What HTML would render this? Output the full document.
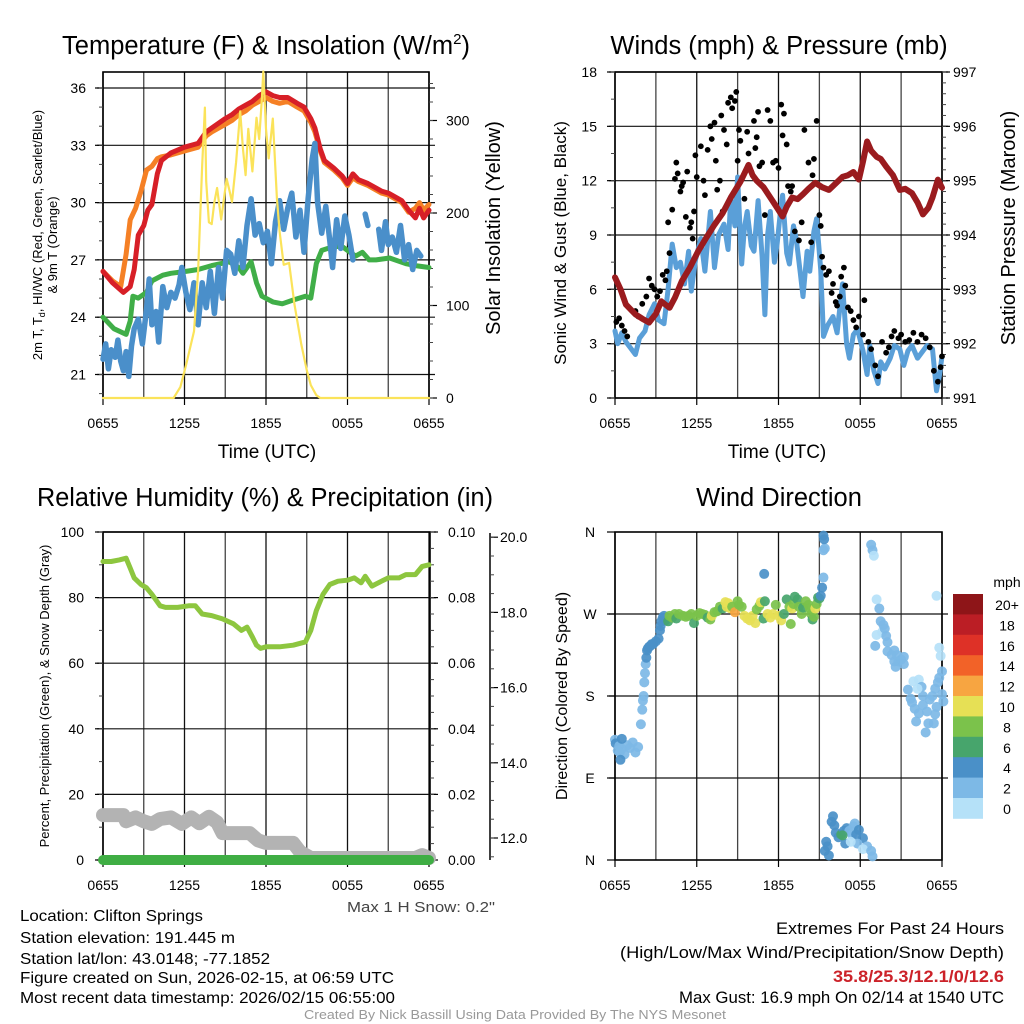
<!DOCTYPE html>
<html><head><meta charset="utf-8"><style>
html,body{margin:0;padding:0;background:#fff;}
svg{display:block;font-family:"Liberation Sans",Arial,sans-serif;}
</style></head><body>
<svg id="fig" width="1024" height="1024" viewBox="0 0 1024 1024" xmlns="http://www.w3.org/2000/svg">
<rect width="1024" height="1024" fill="#fff"/>
<g id="p1"></g>
<g id="p2"></g>
<g id="p3"></g>
<g id="p4"></g>

<text x="266" y="54" font-size="25.5" text-anchor="middle">Temperature (F) &amp; Insolation (W/m<tspan font-size="15" dy="-10">2</tspan><tspan dy="10">)</tspan></text>
<text x="779" y="54" font-size="25.5" text-anchor="middle">Winds (mph) &amp; Pressure (mb)</text>
<text x="265" y="506" font-size="25.5" text-anchor="middle" textLength="456" lengthAdjust="spacingAndGlyphs">Relative Humidity (%) &amp; Precipitation (in)</text>
<text x="779" y="506" font-size="25.5" text-anchor="middle">Wind Direction</text>

<text x="267" y="458" font-size="19" text-anchor="middle">Time (UTC)</text>
<text x="777" y="458" font-size="19" text-anchor="middle">Time (UTC)</text>

<text transform="translate(42,235) rotate(-90)" font-size="13" text-anchor="middle">2m T, T<tspan font-size="9" dy="3">d</tspan><tspan dy="-3">, HI/WC (Red, Green, Scarlet/Blue)</tspan></text>
<text transform="translate(57,245) rotate(-90)" font-size="13" text-anchor="middle">&amp; 9m T (Orange)</text>
<text transform="translate(500,228) rotate(-90)" font-size="20" text-anchor="middle">Solar Insolation (Yellow)</text>
<text transform="translate(566,243) rotate(-90)" font-size="17" text-anchor="middle">Sonic Wind &amp; Gust (Blue, Black)</text>
<text transform="translate(1015,228) rotate(-90)" font-size="20" text-anchor="middle">Station Pressure (Maroon)</text>
<text transform="translate(49,696) rotate(-90)" font-size="13" text-anchor="middle">Percent, Precipitation (Green), &amp; Snow Depth (Gray)</text>
<text transform="translate(567,696) rotate(-90)" font-size="16" text-anchor="middle">Direction (Colored By Speed)</text>

<text x="495" y="912" font-size="15" text-anchor="end" fill="#444" textLength="148" lengthAdjust="spacingAndGlyphs">Max 1 H Snow: 0.2"</text>

<g font-size="16">
<text x="20" y="921" textLength="183" lengthAdjust="spacingAndGlyphs">Location: Clifton Springs</text>
<text x="20" y="943" textLength="215" lengthAdjust="spacingAndGlyphs">Station elevation: 191.445 m</text>
<text x="20" y="964" textLength="250" lengthAdjust="spacingAndGlyphs">Station lat/lon: 43.0148; -77.1852</text>
<text x="20" y="983" textLength="374" lengthAdjust="spacingAndGlyphs">Figure created on Sun, 2026-02-15, at 06:59 UTC</text>
<text x="20" y="1003" textLength="375" lengthAdjust="spacingAndGlyphs">Most recent data timestamp: 2026/02/15 06:55:00</text>
</g>
<g font-size="17" text-anchor="end">
<text x="1004" y="934" textLength="228" lengthAdjust="spacingAndGlyphs">Extremes For Past 24 Hours</text>
<text x="1004" y="958" textLength="384" lengthAdjust="spacingAndGlyphs">(High/Low/Max Wind/Precipitation/Snow Depth)</text>
<text x="1004" y="982" textLength="171" lengthAdjust="spacingAndGlyphs" fill="#cc2229" font-weight="bold">35.8/25.3/12.1/0/12.6</text>
<text x="1004" y="1003" textLength="325" lengthAdjust="spacingAndGlyphs">Max Gust: 16.9 mph On 02/14 at 1540 UTC</text>
</g>
<text x="515" y="1019" font-size="13" fill="#999" text-anchor="middle" textLength="422" lengthAdjust="spacingAndGlyphs">Created By Nick Bassill Using Data Provided By The NYS Mesonet</text>
</svg>
<script>
// ---------- DATA ----------
const xTickHours = [0, 6, 12, 18, 24];
const xTickLabels = ['0655', '1255', '1855', '0055', '0655'];
// Panel 1
const tempTicks = [21, 24, 27, 30, 33, 36];
const insolTicks = [0, 100, 200, 300];
const redTimes = [0,0.7,1.5,2.0,2.3,2.6,3.0,3.3,3.6,4.0,4.3,5,6,7,7.6,8,9,9.5,10,10.5,11,11.5,12,12.5,13,13.6,14.3,14.8,15.3,15.6,16,16.3,17,17.6,18,18.4,18.8,19.5,20.5,21,22,22.5,23,23.3,23.6,24];
const redValues = [26.4,25.8,25.3,25.6,26.5,28.3,28.8,29.6,29.9,31.5,32.2,32.6,32.9,33.1,33.7,33.9,34.4,34.6,34.9,35.1,35.3,35.6,35.8,35.6,35.5,35.5,35.2,35.0,34.4,33.9,32.8,32.2,31.8,31.4,31.0,31.5,31.2,31.0,30.6,30.5,30.1,29.6,29.2,29.7,29.2,29.6];
const orangeTimes = [0,0.7,1.3,1.7,2.0,2.4,2.8,3.2,3.6,4.0,4.3,5,6,7,7.6,8,9,9.5,10,10.5,11,11.5,12,12.5,13,13.6,14.3,14.8,15.3,15.6,16,16.3,17,17.6,18,18.4,18.8,19.5,20.5,21,22,22.5,23,23.3,23.6,24];
const orangeValues = [26.4,25.9,25.6,27.3,29.1,29.7,30.6,31.7,31.9,32.3,32.4,32.5,32.7,32.9,33.5,33.7,34.1,34.3,34.6,34.8,35.1,35.3,35.5,35.3,35.2,35.3,35.0,34.8,34.2,33.7,32.7,32.1,31.7,31.3,30.9,31.3,31.1,30.9,30.5,30.4,30.0,29.5,29.7,30.0,29.6,29.9];
const greenTimes = [0,0.8,1.7,2.0,2.2,2.6,3.2,3.6,4.4,5,6.1,7,8,9.3,10,10.3,10.9,11.3,11.7,12.5,13.2,14,14.9,15.3,15.7,16.1,17,17.6,18.2,18.6,19.1,19.6,20.1,21.1,22.3,23,24];
const greenValues = [24.0,23.4,23.1,23.8,25.1,25.0,25.3,25.9,26.2,26.3,26.4,26.5,26.7,26.9,26.6,26.3,26.9,25.8,25.1,24.8,24.7,24.9,25.1,25.0,26.8,27.5,27.7,27.7,27.4,27.2,27.4,27.0,27.0,27.1,26.8,26.7,26.6];
const blueTimes = [0,0.2,0.4,0.6,0.9,1.1,1.3,1.5,1.7,1.9,2.1,2.3,2.6,2.9,3.2,3.4,3.6,3.9,4.1,4.4,4.7,5.0,5.3,5.6,5.8,6.1,6.4,6.7,7.0,7.3,7.6,7.9,8.2,8.5,8.8,9.1,9.4,9.7,10.0,10.3,10.6,10.9,11.2,11.5,11.8,12.1,12.4,12.7,13.0,13.3,13.6,13.9,14.2,14.5,14.8,15.1,15.4,15.6,15.8,16.1,16.4,16.7,16.9,17.2,17.5,17.8,18.1,18.4,18.6,19.3,19.5,19.7,20.3,20.5,20.8,21.0,21.3,21.6,21.9,22.2,22.5,22.8,23.1,23.4];
const blueValues = [21.8,22.6,21.3,22.3,21.9,22.8,21.7,21.2,22.2,20.9,22.5,23.4,23.9,22.6,24.4,26.0,23.6,24.3,22.7,25.6,24.5,25.3,25.0,25.7,26.6,25.3,24.4,25.8,23.6,25.8,24.5,26.4,24.2,26.6,25.0,27.5,27.3,26.3,28.0,26.6,28.8,30.2,28.3,28.9,27.9,28.5,26.8,29.0,30.1,28.6,29.7,30.5,28.2,29.6,27.4,30.2,32.3,33.1,30.0,28.4,29.8,28.0,26.6,29.1,27.6,29.3,28.3,27.0,null,29.4,28.8,null,28.6,27.5,29.0,27.8,28.2,27.4,28.8,27.0,27.8,26.5,27.5,27.2];
const insolTimes = [0,5.2,5.7,6.1,6.7,7.0,7.3,7.5,7.6,7.8,8.0,8.2,8.4,8.7,9.1,9.3,9.5,9.8,10.1,10.3,10.5,10.7,11.0,11.3,11.5,11.7,11.8,12.0,12.2,12.5,12.8,13.0,13.3,13.7,14.1,14.6,15.0,15.3,15.7,16.0,24];
const insolValues = [0,0,12,35,72,137,252,314,234,190,188,212,227,193,237,225,212,255,310,270,241,291,245,303,280,324,353,291,259,302,216,180,144,146,101,58,30,14,3,0,0];
// Panel 2
const windTicks = [0, 3, 6, 9, 12, 15, 18];
const presTicks = [991, 992, 993, 994, 995, 996, 997];
const windTimes = [0,0.2,0.5,0.8,1.1,1.5,1.8,2.2,2.5,2.9,3.2,3.6,3.9,4.2,4.5,4.8,5.1,5.4,5.6,5.9,6.3,6.6,7.0,7.3,7.6,8.0,8.3,8.5,8.8,9.0,9.3,9.5,9.7,10.0,10.2,10.5,10.8,11.0,11.2,11.4,11.7,11.9,12.1,12.3,12.6,12.8,13.1,13.3,13.6,13.8,14.1,14.3,14.6,14.8,15.1,15.3,15.6,16.0,16.3,16.7,17.0,17.2,17.5,17.8,18.2,18.5,18.7,19.0,19.3,19.5,19.8,20.2,20.5,20.9,21.2,21.5,21.8,22.2,22.5,22.9,23.3,23.6,23.8,24];
const windValues = [3.7,3.0,3.6,3.1,2.8,2.4,3.3,3.7,4.6,5.2,4.3,4.1,6.0,8.5,7.2,7.5,6.3,8.1,5.9,7.6,8.8,7.0,10.3,7.2,9.0,9.6,8.2,11.1,9.5,12.2,7.4,9.4,10.3,8.4,8.1,10.9,7.8,4.6,9.0,10.3,7.5,8.5,10.0,11.2,8.0,7.4,9.5,8.8,6.9,5.6,8.1,7.0,9.2,9.9,7.1,3.4,4.0,4.5,3.6,6.3,3.0,2.2,3.5,3.8,2.6,1.3,2.9,1.5,0.8,2.0,1.6,2.2,2.9,2.7,1.8,2.6,2.9,2.2,2.5,2.9,2.7,0.4,1.2,2.3];
const presTimes = [0,0.4,0.8,1.5,2.0,2.5,3.0,3.4,4.0,4.4,4.9,5.5,6.1,6.7,7.3,7.9,8.5,9.2,9.8,10.1,10.4,10.9,11.4,11.9,12.3,12.6,13.0,13.4,13.8,14.2,14.7,15.2,15.7,16.2,16.7,17.1,17.5,17.9,18.2,18.5,18.8,19.2,19.5,19.9,20.4,20.9,21.3,21.8,22.2,22.6,23.0,23.3,23.7,24];
const presValues = [993.22,993.0,992.72,992.54,992.46,992.39,992.55,992.78,992.66,992.85,993.15,993.4,993.70,993.95,994.19,994.4,994.69,994.98,995.29,995.1,995.0,994.88,994.69,994.5,994.34,994.52,994.69,994.66,994.75,994.85,994.96,994.88,994.83,994.95,995.07,995.1,995.16,995.02,995.35,995.72,995.55,995.44,995.4,995.26,995.1,994.83,994.85,994.77,994.6,994.38,994.5,994.69,995.02,994.87];
const gustTimes = [0.1,0.3,0.5,0.7,0.9,1.5,1.7,2.0,2.3,2.5,2.7,2.9,3.1,3.3,3.5,3.7,3.8,3.9,4.0,4.2,4.4,4.5,4.6,4.8,4.9,5.0,5.2,5.3,5.5,5.6,5.7,5.8,5.9,6.0,6.3,6.5,6.6,6.8,7.0,7.1,7.3,7.4,7.5,7.7,7.8,7.9,8.0,8.2,8.3,8.5,8.6,8.8,8.9,9.0,9.1,9.2,9.5,9.7,9.8,10.0,10.2,10.3,10.4,10.5,10.6,10.8,11.0,11.2,11.4,11.6,11.8,12.0,12.2,12.3,12.4,12.6,12.7,12.9,13.0,13.2,13.5,13.7,13.9,14.2,14.4,14.5,14.6,14.8,15.0,15.1,15.2,15.3,15.5,15.7,15.9,16.0,16.2,16.3,16.5,16.6,16.8,16.9,17.1,17.3,17.5,17.7,17.9,18.2,18.3,18.6,18.8,19.1,19.3,19.6,19.9,20.1,20.3,20.5,20.8,21.0,21.3,21.6,21.9,22.2,22.5,22.8,23.1,23.4,23.7,23.9,24.0];
const gustValues = [4.2,4.4,4.0,3.7,3.4,4.8,4.5,5.2,5.6,6.6,6.2,6.0,5.6,5.9,6.8,6.5,7.0,9.7,8.0,10.4,12.1,13.0,12.4,11.4,11.7,11.9,10.0,12.5,9.4,9.7,8.8,10.3,13.4,12.2,13.9,12.0,11.2,13.7,15.0,14.3,15.2,13.1,11.5,12.0,15.6,10.3,14.8,14.0,16.3,16.6,16.0,16.4,16.9,13.1,14.8,14.2,11.0,14.7,13.5,12.5,15.3,13.8,14.4,15.8,12.8,13.0,10.1,15.9,15.3,13.0,13.1,12.7,16.2,14.5,15.7,14.0,11.7,11.4,11.7,9.2,8.7,9.7,14.8,13.0,8.6,12.3,13.2,15.3,10.1,9.5,7.8,7.2,6.8,7.0,5.8,6.3,5.3,5.1,5.6,6.7,7.2,6.2,5.0,4.8,4.3,3.9,4.5,3.5,5.4,3.1,2.7,1.8,1.2,3.1,2.5,2.8,3.4,3.7,3.3,3.5,3.1,3.2,3.6,3.1,3.5,3.3,2.8,1.5,0.9,1.7,2.3];
// Panel 3
const rhTicks = [0, 20, 40, 60, 80, 100];
const precipTicks = [0, 0.02, 0.04, 0.06, 0.08, 0.10];
const precipLabels = ['0.00', '0.02', '0.04', '0.06', '0.08', '0.10'];
const snowAxisTicks = [12, 14, 16, 18, 20];
const snowAxisLabels = ['12.0', '14.0', '16.0', '18.0', '20.0'];
const rhTimes = [0,0.6,1.2,1.7,2.0,2.3,2.8,3.2,3.6,4.2,4.6,5.5,6.3,6.8,7.3,8.0,8.8,9.6,10.2,10.6,11.0,11.3,11.6,12.0,13.0,14.0,14.9,15.3,15.7,16.2,16.7,17.3,18.0,18.5,19.0,19.3,19.8,20.5,21.0,21.8,22.3,23.0,23.5,24];
const rhValues = [91,91,91.5,92,89,86,84,83,81,77.5,77,77,77.5,77.5,75,74.5,73.5,72,70,71,68,65.5,64.5,65,65,65.5,66.5,70,76,81,84,85,85.3,86,84.5,86.5,83.5,85,86,86,87,87,89.5,90];
const snowTimes = [0,1.5,1.7,2.4,3.0,3.6,4.2,5.0,5.8,6.5,7.1,7.8,8.4,8.8,10.8,11.4,12.0,14.0,14.5,15.3,23.0,23.5,24];
const snowValues = [13.7,13.7,11.8,13.0,11.8,11.0,12.5,13.0,11.0,13.0,11.2,13.2,11.5,8.2,8.2,6.0,5.2,5.2,2.5,0.6,0.6,1.5,0.6];
const precipTimes = [0, 24];
const precipValues = [0, 0];
// Panel 4
const dirTicks = [0, 90, 180, 270, 360];
const dirLabels = ['N', 'E', 'S', 'W', 'N'];
const dirTimes = [0,0.05,0.2,0.3,0.5,0.7,0.9,1.1,1.3,1.5,0.5,0.35,0.4,1.7,1.9,2.0,2.05,2.1,2.15,2.2,2.25,2.3,2.35,2.4,2.5,2.6,2.7,2.8,3.0,3.2,3.3,3.35,3.4,3.5,3.6,3.7,3.9,4.0,4.2,4.4,4.5,4.7,5.0,5.2,5.4,5.6,5.8,6.0,6.2,6.4,6.6,6.8,7.0,7.1,7.3,7.5,7.7,7.9,8.1,8.2,8.3,8.5,8.6,8.8,9.0,9.1,9.3,9.5,9.7,9.9,10.1,10.3,10.4,10.6,10.7,10.9,11.0,11.2,11.4,11.6,11.8,12.0,12.2,12.4,12.6,12.8,12.9,13.0,13.1,13.2,13.4,13.5,13.7,13.8,14.0,14.2,14.3,14.4,14.5,14.6,14.7,14.8,14.9,15.0,10.95,15.1,15.2,15.3,15.3,15.4,15.3,15.35,15.5,15.6,15.4,15.7,15.9,16.0,16.1,16.2,16.4,16.6,16.8,17.0,17.2,17.4,17.5,17.6,17.7,17.9,18.2,17.8,18.5,18.2,18.8,18.9,16.9,16.7,17.3,18.8,18.9,19.0,19.2,19.4,19.5,19.6,19.7,19.8,19.9,20.0,19.1,19.2,20.0,20.3,20.5,20.6,20.8,21.0,20.7,20.5,21.2,21.2,21.5,21.7,21.8,22.0,22.3,22.6,22.9,23.1,23.3,23.5,23.7,23.8,24.0,24.1,23.0,22.1,22.8,23.8,23.6,23.9,21.9,22.3,22.5,22.6,22.2,23.5,23.6,23.4,24.0];
const dirValues = [132,128,120,125,122,116,126,123,129,118,133,118,110,124,149,165,175,180,195,205,215,222,230,232,234,235,237,237,240,243,252,257,262,266,268,263,262,268,266,270,265,270,268,267,268,270,260,268,271,270,269,266,264,268,272,273,278,276,283,278,282,276,278,272,284,280,278,268,265,263,268,260,275,279,283,265,284,270,266,270,280,268,263,270,286,278,259,276,281,289,286,278,270,277,284,280,276,270,264,267,276,281,288,287,314,290,299,310,340,342,356,352,20,15,10,5,42,48,38,30,25,28,32,35,32,28,37,40,28,33,24,18,15,12,10,4,18,27,20,346,340,334,286,276,262,250,258,254,246,239,235,247,229,225,218,212,218,220,225,230,223,215,187,177,173,166,161,170,163,176,180,188,195,200,182,174,150,152,140,233,290,224,196,198,190,180,188,160,168,150,207];
const dirSpeeds = [3,4,3,2,2,2,2,2,2,2,4,3,4,2,2,2,2,2,2,2,2,4,4,4,4,4,4,4,4,4,4,4,4,4,4,4,6,8,8,8,6,8,8,8,8,8,6,8,8,8,8,6,8,10,8,8,8,6,10,10,10,10,8,12,8,8,8,10,10,10,10,10,8,8,10,6,6,10,10,10,8,10,10,6,6,8,8,10,8,6,6,8,8,6,8,8,8,8,6,8,10,8,6,6,4,4,4,2,2,2,4,4,4,4,4,4,4,4,4,4,4,6,4,4,2,2,2,2,4,4,4,2,2,1,2,2,4,6,1,2,2,1,1,2,2,1,2,2,2,2,2,1,2,2,2,2,2,2,2,2,2,2,2,2,2,2,2,2,2,2,2,2,2,2,2,2,2,2,2,1,1,1,1,1,2,2,1,2,2,2,2,1,2];
const speedBinLabels = ['20+', '18', '16', '14', '12', '10', '8', '6', '4', '2', '0'];
const speedBinColors = ['#8e1518', '#bb1e25', '#de3127', '#f26228', '#f7a541', '#e6e055', '#7bc24b', '#47a56c', '#4a90c8', '#7db9e6', '#b5e1f8'];

// ---------- HELPERS ----------
const NS = 'http://www.w3.org/2000/svg';
function mk(parent, tag, attrs) {
  const el = document.createElementNS(NS, tag);
  for (const k in attrs) el.setAttribute(k, attrs[k]);
  parent.appendChild(el);
  return el;
}
function pathD(ts, vs, xf, yf) {
  let d = '', pen = false;
  for (let i = 0; i < ts.length; i++) {
    if (vs[i] === null) { pen = false; continue; }
    d += (pen ? 'L' : 'M') + xf(ts[i]).toFixed(1) + ',' + yf(vs[i]).toFixed(1);
    pen = true;
  }
  return d;
}
const L = 103, R = 429, L2 = 615, R2 = 942;
const T1 = 72, B1 = 398, T3 = 532, B3 = 860;
const x1 = h => L + h * (R - L) / 24;
const x2 = h => L2 + h * (R2 - L2) / 24;
const yT = t => 88 + (36 - t) * 19.1;
const yI = r => B1 - r * 0.925;
const yW = v => B1 - v * (B1 - T1) / 18;
const yP = p => B1 - (p - 991) * (B1 - T1) / 6;
const yRH = r => B3 - r * (B3 - T3) / 100;
const yPr = p => B3 - p * (B3 - T3) / 0.1;
const ySn = d => 838 - (d - 12) * 37.6;
const yD = d => B3 - d * (B3 - T3) / 360;

function frame(g, xl, xr, yt, yb, xf, yHoriz, name) {
  for (let h = 0; h <= 24; h += 3) {
    const ln = mk(g, 'line', {x1: xf(h), x2: xf(h), y1: yt, y2: yb, stroke: (h % 6 === 0) ? '#111' : '#444', 'stroke-width': 1.3});
    
    
  }
  yHoriz.forEach(y => {
    const ln = mk(g, 'line', {x1: xl - 6, x2: xr + 6, y1: y, y2: y, stroke: '#111', 'stroke-width': 1.2});
    
    
  });
  const fr = mk(g, 'rect', {x: xl, y: yt, width: xr - xl, height: yb - yt, fill: 'none', stroke: '#000', 'stroke-width': 1.6});
  
  
  for (let i = 0; i < xTickHours.length; i++) {
    const tk = mk(g, 'line', {x1: xf(xTickHours[i]), x2: xf(xTickHours[i]), y1: yb, y2: yb + 7, stroke: '#000', 'stroke-width': 1.2});
    
    
    const tx = mk(g, 'text', {x: xf(xTickHours[i]), y: yb + 30, 'font-size': 14, 'text-anchor': 'middle'});
    tx.textContent = xTickLabels[i];
    
    
  }
}
function yAxis(g, ticks, labels, yf, x, side, labelX, anchor, name, minorStep, minorFrom, minorTo) {
  const dir = side === 'left' ? -1 : 1;
  for (let i = 0; i < ticks.length; i++) {
    const y = yf(ticks[i]);
    const tk = mk(g, 'line', {x1: x, x2: x + dir * 8, y1: y, y2: y, stroke: '#000', 'stroke-width': 1.2});
    
    
    const tx = mk(g, 'text', {x: labelX, y: y + 5, 'font-size': 14, 'text-anchor': anchor});
    tx.textContent = labels[i];
    
    
  }
  if (minorStep) {
    for (let v = minorFrom; v <= minorTo + 1e-9; v += minorStep) {
      const y = yf(v);
      const mt = mk(g, 'line', {x1: x, x2: x + dir * 4, y1: y, y2: y, stroke: '#444', 'stroke-width': 1});
      
      
    }
  }
}
function series(g, ts, vs, xf, yf, color, w, name) {
  const p = mk(g, 'path', {d: pathD(ts, vs, xf, yf), fill: 'none', stroke: color, 'stroke-width': w, 'stroke-linejoin': 'round', 'stroke-linecap': 'round'});
  
  
  return p;
}

// ---------- PANEL 1 ----------
const p1 = document.getElementById('p1');
frame(p1, L, R, T1, B1, x1, tempTicks.map(yT), 'p1');
yAxis(p1, tempTicks, tempTicks.map(String), yT, L, 'left', 86, 'end', 'p1-temp-axis', 1, 20, 36);
yAxis(p1, insolTicks, insolTicks.map(String), yI, R, 'right', 446, 'start', 'p1-insol-axis', 20, 0, 340);
series(p1, orangeTimes, orangeValues, x1, yT, '#f58025', 5, 'nine-meter-temp-line');
series(p1, redTimes, redValues, x1, yT, '#d71f27', 5, 'two-meter-temp-line');
series(p1, greenTimes, greenValues, x1, yT, '#40ae48', 5, 'dewpoint-line');
series(p1, blueTimes, blueValues, x1, yT, '#4a8fca', 5.5, 'wind-chill-line');
series(p1, insolTimes, insolValues, x1, yI, '#fbe35a', 2.2, 'solar-insolation-line');

// ---------- PANEL 2 ----------
const p2 = document.getElementById('p2');
frame(p2, L2, R2, T1, B1, x2, windTicks.map(yW), 'p2');
yAxis(p2, windTicks, windTicks.map(String), yW, L2, 'left', 597, 'end', 'p2-wind-axis', 1.5, 0, 18);
yAxis(p2, presTicks, presTicks.map(String), yP, R2, 'right', 953, 'start', 'p2-pressure-axis', 0.2, 991, 997);
series(p2, windTimes, windValues, x2, yW, '#5a9fd8', 5, 'sonic-wind-line');
const gg = mk(p2, 'g', {});


for (let i = 0; i < gustTimes.length; i++) {
  const c = mk(gg, 'circle', {cx: x2(gustTimes[i]), cy: yW(gustValues[i]), r: 2.9, fill: '#000'});
  
  
}
series(p2, presTimes, presValues, x2, yP, '#9a1b1e', 6, 'station-pressure-line');

// ---------- PANEL 3 ----------
const p3 = document.getElementById('p3');
frame(p3, L, R + 1, T3, B3, x1, rhTicks.map(yRH), 'p3');
yAxis(p3, rhTicks, rhTicks.map(String), yRH, L, 'left', 84, 'end', 'p3-rh-axis', 10, 0, 100);
yAxis(p3, precipTicks, precipLabels, yPr, R + 1, 'right', 448, 'start', 'p3-precip-axis', 0.005, 0, 0.1);
const sAx = mk(p3, 'line', {x1: 490, x2: 490, y1: 533, y2: 860, stroke: '#000', 'stroke-width': 1.5});


yAxis(p3, snowAxisTicks, snowAxisLabels, ySn, 490, 'right', 500, 'start', 'p3-snow-axis', 0.5, 11.5, 20);
series(p3, rhTimes, rhValues, x1, yRH, '#8dc63f', 5, 'relative-humidity-line');
series(p3, snowTimes, snowValues, x1, yRH, '#b3b3b3', 14, 'snow-depth-line');
series(p3, precipTimes, precipValues, x1, yPr, '#3fae44', 10, 'precipitation-line');

// ---------- PANEL 4 ----------
const p4 = document.getElementById('p4');
frame(p4, L2, R2, T3, B3, x2, [90, 180, 270].map(yD), 'p4');
yAxis(p4, dirTicks, dirLabels, yD, L2, 'left', 590, 'middle', 'p4-direction-axis', 0, 0, 0);
const dg = mk(p4, 'g', {});


for (let i = 0; i < dirTimes.length; i++) {
  const bin = Math.min(10, Math.floor(dirSpeeds[i] / 2));
  const c = mk(dg, 'circle', {cx: x2(dirTimes[i]), cy: yD(dirValues[i]), r: 5, fill: speedBinColors[10 - bin], 'fill-opacity': 0.92});
  
  
}
const cb = mk(p4, 'g', {});


const cbTitle = mk(cb, 'text', {x: 1007, y: 587, 'font-size': 14, 'text-anchor': 'middle'});
cbTitle.textContent = 'mph';


for (let i = 0; i < speedBinLabels.length; i++) {
  const bx = mk(cb, 'rect', {x: 953, y: 594 + i * 20.4, width: 30, height: 20.8, fill: speedBinColors[i]});
  
  
  const lb = mk(cb, 'text', {x: 1007, y: 594 + i * 20.4 + 16, 'font-size': 14, 'text-anchor': 'middle'});
  lb.textContent = speedBinLabels[i];
  
  
}
</script>
</body></html>
